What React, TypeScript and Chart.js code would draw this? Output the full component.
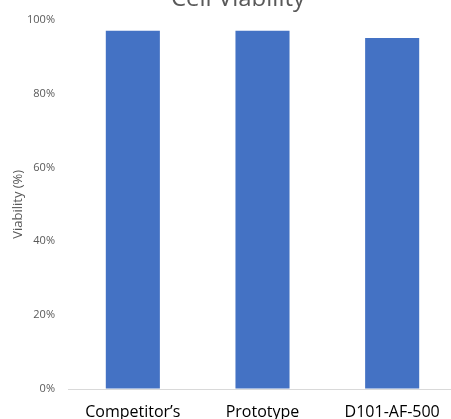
import React, { useEffect, useRef } from "react";
import { Chart, registerables } from "chart.js";

Chart.register(...registerables);

const categories = ["Competitor’s", "Prototype", "D101-AF-500"];
const viability = [97, 97, 95];
const yTicks = [0, 20, 40, 60, 80, 100];
const titleText = "Cell Viability";
const yTitle = "Viability (%)";

const titlePlugin = {
  id: "cutTitle",
  afterDraw(chart: any) {
    const ctx = chart.ctx;
    ctx.save();
    ctx.font = "24px 'Open Sans'";
    ctx.fillStyle = "#595959";
    ctx.textAlign = "center";
    ctx.textBaseline = "alphabetic";
    ctx.fillText(titleText, 238, 6);
    ctx.restore();
  },
};

export default function App() {
  const ref = useRef<HTMLCanvasElement | null>(null);
  useEffect(() => {
    if (!ref.current) return;
    const chart = new Chart(ref.current, {
      type: "bar",
      data: {
        labels: categories,
        datasets: [
          {
            data: viability,
            backgroundColor: "#4472C4",
            borderWidth: 0,
            categoryPercentage: 1,
            barPercentage: 0.417,
          },
        ],
      },
      options: {
        responsive: false,
        animation: false,
        layout: { padding: { top: 19, right: 13, left: 0, bottom: 0 } },
        plugins: {
          legend: { display: false },
          title: { display: false },
          tooltip: { enabled: false },
        },
        scales: {
          x: {
            grid: { display: false },
            border: { display: false },
            ticks: {
              color: "#000000",
              font: { family: "'Open Sans'", size: 16 },
              padding: 6,
              maxRotation: 0,
              autoSkip: false,
            },
            afterFit(scale: any) {
              scale.height = 30;
            },
          },
          y: {
            min: 0,
            max: 100,
            afterBuildTicks(scale: any) {
              scale.ticks = yTicks.map((v) => ({ value: v }));
            },
            grid: {
              drawTicks: false,
              color: (c: any) => (c.tick && c.tick.value === 0 ? "#d9d9d9" : "rgba(0,0,0,0)"),
              lineWidth: 1,
            },
            border: { display: false },
            ticks: {
              color: "#595959",
              font: { family: "'Open Sans'", size: 11 },
              padding: 13,
              callback: (v: any) => v + "%",
            },
            title: {
              display: true,
              text: yTitle,
              color: "#595959",
              font: { family: "'Open Sans'", size: 13 },
              padding: { top: 10, bottom: 0 },
            },
            afterFit(scale: any) {
              scale.width = 68;
            },
          },
        },
      },
      plugins: [titlePlugin],
    });
    return () => chart.destroy();
  }, []);
  return (
    <div
      style={{
        position: "fixed",
        left: 0,
        top: 0,
        width: 451,
        height: 419,
        overflow: "hidden",
        background: "#ffffff",
      }}
    >
      <canvas ref={ref} width={470} height={419} style={{ display: "block" }} />
    </div>
  );
}
